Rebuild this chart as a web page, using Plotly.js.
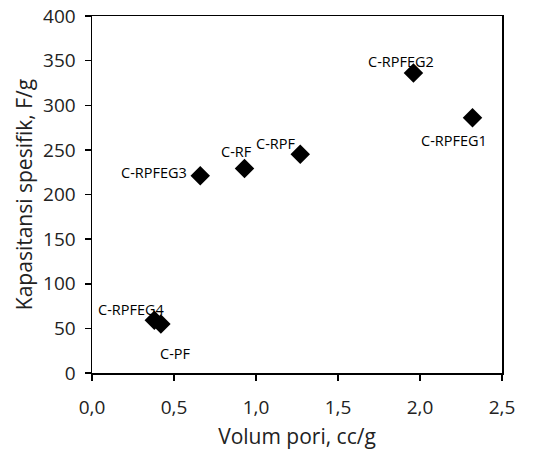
<!DOCTYPE html>
<html>
<head>
<meta charset="utf-8">
<script src="https://cdn.plot.ly/plotly-3.0.1.min.js"></script>
<style>html,body{margin:0;padding:0;background:#fff;}#chart{width:539px;height:450px;}</style>
</head>
<body>
<div id="chart"></div>
<script>
const sampleNames = ["C-RPFEG3", "C-RF", "C-RPF", "C-RPFEG2", "C-RPFEG1", "C-RPFEG4", "C-PF"];
const poreVolume = [0.66, 0.93, 1.27, 1.96, 2.32, 0.38, 0.42];
const capacitance = [221, 229, 245, 336, 286, 59, 55];
const xTickVals = [0, 0.5, 1.0, 1.5, 2.0, 2.5];
const yTickVals = [0, 50, 100, 150, 200, 250, 300, 350, 400];

// label offsets (pixels) - styling only
const labelDx = [-46, -8, -25, -12, -18, -23, 15];
const labelDy = [3, 17, 11, 12, -23, 11, -30];

const fontFam = "Open Sans, sans-serif";

const trace = {
  x: poreVolume,
  y: capacitance,
  mode: "markers",
  type: "scatter",
  marker: {symbol: "diamond", size: 15, color: "#000"},
  hoverinfo: "skip",
  showlegend: false
};

const annotations = sampleNames.map((n, i) => ({
  x: poreVolume[i], y: capacitance[i], xref: "x", yref: "y",
  text: n, showarrow: false,
  xshift: labelDx[i], yshift: labelDy[i],
  font: {family: fontFam, size: 14.5, color: "#000"}
}));

const layout = {
  width: 539, height: 450,
  margin: {l: 92, r: 37, t: 16, b: 77},
  paper_bgcolor: "#fff", plot_bgcolor: "#fff",
  separators: ",.",
  font: {family: fontFam, size: 18, color: "#222"},
  xaxis: {
    range: [0, 2.5], tickvals: xTickVals, tickformat: ".1f",
    showgrid: false, zeroline: false,
    showline: true, mirror: true, linecolor: "#000", linewidth: 1.5,
    ticks: "outside", ticklen: 6, tickwidth: 1.5, tickcolor: "#000",
    ticklabelstandoff: 11,
    tickfont: {family: fontFam, size: 19, color: "#222"},
    automargin: false,
    title: {text: "Volum pori, cc/g", font: {family: fontFam, size: 21, color: "#222"}, standoff: 10}
  },
  yaxis: {
    range: [0, 400], tickvals: yTickVals,
    showgrid: false, zeroline: false,
    showline: true, mirror: true, linecolor: "#000", linewidth: 1.5,
    ticks: "outside", ticklen: 6, tickwidth: 1.5, tickcolor: "#000",
    ticklabelstandoff: 5,
    tickfont: {family: fontFam, size: 19, color: "#222"},
    automargin: false,
    title: {text: "Kapasitansi spesifik, F/g", font: {family: fontFam, size: 21, color: "#222"}, standoff: 5}
  },
  annotations: annotations
};

Plotly.newPlot("chart", [trace], layout, {displayModeBar: false, staticPlot: true});
</script>
</body>
</html>
